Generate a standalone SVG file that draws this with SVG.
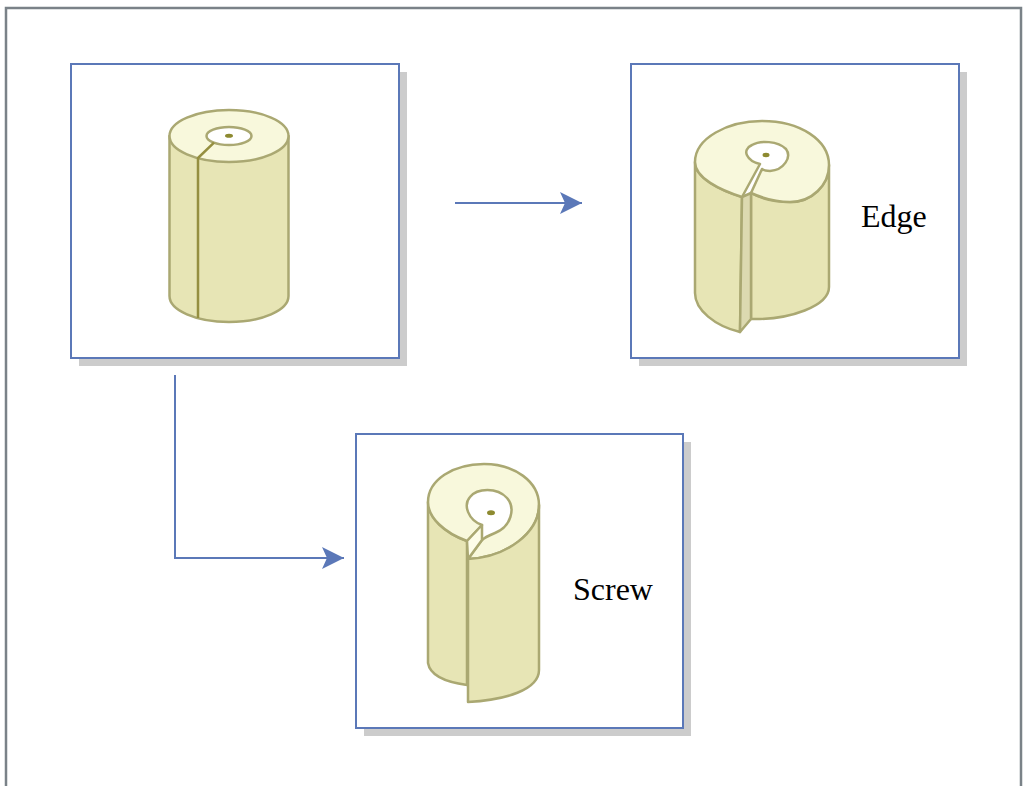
<svg xmlns="http://www.w3.org/2000/svg" width="1025" height="786" viewBox="0 0 1025 786">
<style>
.frame{fill:none;stroke:#7a8288;stroke-width:2.5}
.box{fill:#ffffff;stroke:#5b78b8;stroke-width:2}
.shadow{fill:#cccccc}
.side{fill:#e7e5b5;stroke:#aaa872;stroke-width:2.5;stroke-linejoin:round}
.top{fill:#f8f8dc;stroke:#aaa872;stroke-width:2.5;stroke-linejoin:round}
.hole{fill:#ffffff;stroke:#aaa872;stroke-width:2.5}
.strip{fill:#dcd9b0;stroke:#aaa872;stroke-width:2.5;stroke-linejoin:round}
.cut{fill:#fdfde9;stroke:#aaa872;stroke-width:2.5;stroke-linejoin:round}
.dot{fill:#8d8a30}
.seam{fill:none;stroke:#958f40;stroke-width:2.5;stroke-linejoin:round}
.conn{fill:none;stroke:#5b78b8;stroke-width:2}
.label{font-family:"Liberation Serif","Times New Roman",serif;font-size:32px;fill:#000000}
</style>
<defs>
<marker id="head" markerUnits="userSpaceOnUse" viewBox="0 0 22 22" markerWidth="22" markerHeight="22" refX="22" refY="11" orient="auto">
<path d="M0,0 L22,11 L0,22 L5,11 Z" fill="#5b78b8"/>
</marker>
</defs>
<path class="frame" d="M6,795 V8 H1021 V795"/>

<g id="node-roll">
<rect class="shadow" x="79" y="72" width="328" height="294"/>
<rect class="box" x="71" y="64" width="328" height="294"/>
<path class="side" d="M169.5,136 L169.5,296 A59.5,26 0 0 0 288.5,296 L288.5,136 Z"/>
<ellipse class="top" cx="229" cy="136" rx="59.5" ry="26"/>
<ellipse class="hole" cx="229" cy="136" rx="22.5" ry="9"/>
<ellipse class="dot" cx="229" cy="135.7" rx="4" ry="2"/>
<path class="seam" d="M214,142.7 L198,158 L198,318"/>
</g>

<g id="node-edge">
<rect class="shadow" x="639" y="72" width="328" height="294"/>
<rect class="box" x="631" y="64" width="328" height="294"/>
<path class="side" d="M695,162 L695,293 C695,310 715,326 740,332 L742,197 C720,190 695,178 695,162 Z"/>
<path class="side" d="M751,193 C760,198 772,202 790,202 C812,202 829,185 829,165 L829,287 C829,306 790,320 751,319 Z"/>
<path class="strip" d="M742,197 L751,193 L751,319 L740,332 Z"/>
<path class="top" d="M742,197 C720,190 695,178 695,162 C695,138 728,121 762,121 C800,121 829,140 829,165 C829,185 812,202 790,202 C772,202 760,197 751,193 L762,169 C763,170 766,171 770,171 C784,170 792,157 786,149 C778,141 760,140 752,145 C741,150 747,161 760,164 Z"/>
<ellipse class="dot" cx="766" cy="155" rx="3.5" ry="2.2"/>
<text class="label" x="861" y="227">Edge</text>
</g>

<g id="node-screw">
<rect class="shadow" x="364" y="442" width="327" height="294"/>
<rect class="box" x="356" y="434" width="327" height="294"/>
<path class="side" d="M428,502 L428,663 C430,675 445,682 467,685 L467,541 C445,533 428,518 428,502 Z"/>
<path class="top" d="M467,541 C445,533 428,518 428,502 C428,480 453,464 484,464 C515,464 539,482 539,505 C539,532 508,557 468,559 L482,540 C485,537 490,535 495,533 C511,527 516,508 507,498 C497,487 477,488 470,497 C463,505 468,520 482,525 Z"/>
<path class="side" d="M468,559 C508,557 539,532 539,505 L539,670 C539,690 505,700 468,702 Z"/>
<path class="cut" d="M467,541 L482,525 L482,540 L468,559 Z"/>
<ellipse class="dot" cx="491" cy="512.7" rx="4" ry="2.5"/>
<text class="label" x="573" y="600">Screw</text>
</g>

<g id="connectors">
<path class="conn" d="M455,203 H582" marker-end="url(#head)"/>
<path class="conn" d="M175,375 V558 H344" marker-end="url(#head)"/>
</g>
</svg>
